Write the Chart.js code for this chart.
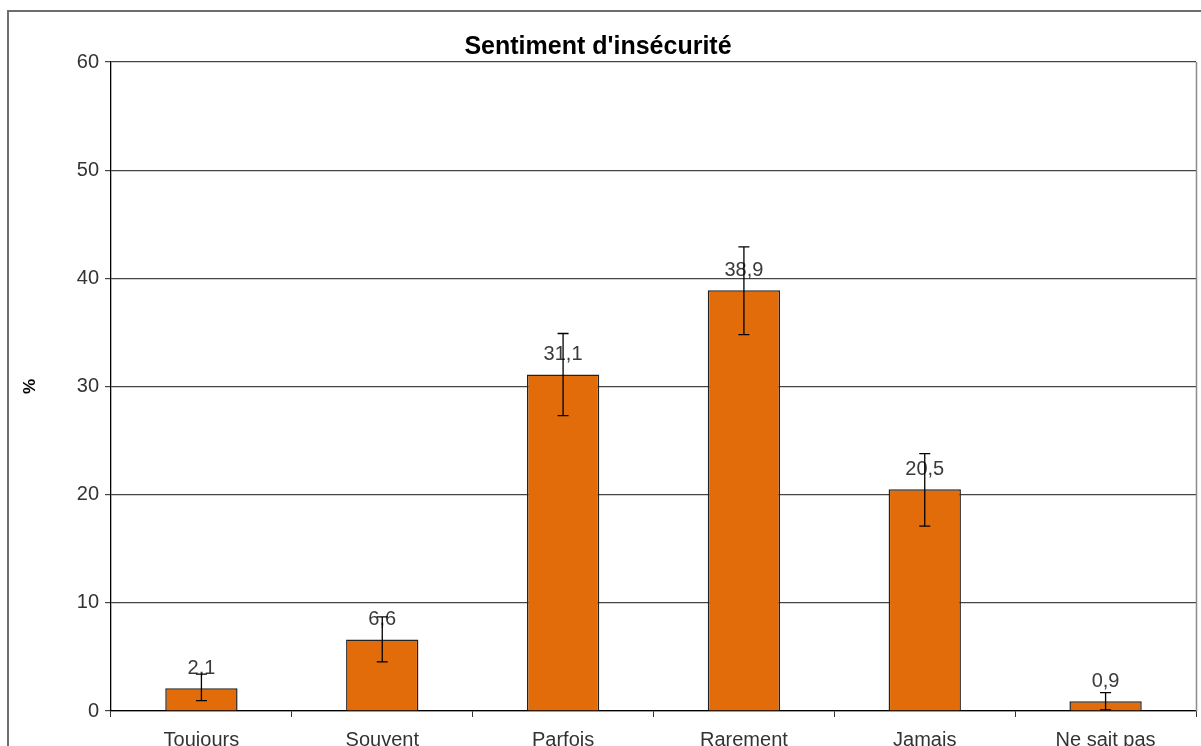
<!DOCTYPE html>
<html>
<head>
<meta charset="utf-8">
<script src="https://cdn.jsdelivr.net/npm/chart.js@4"></script>
<style>
  html, body { margin: 0; padding: 0; background: #fff; }
  #wrap { width: 1201px; height: 746px; }
</style>
</head>
<body>
<div id="wrap"><canvas id="canvas" width="1201" height="746"></canvas></div>
<script>
var categories = ['Toujours', 'Souvent', 'Parfois', 'Rarement', 'Jamais', 'Ne sait pas'];
var values = [2.1, 6.6, 31.1, 38.9, 20.5, 0.9];
var errLow = [0.95, 4.55, 27.3, 34.8, 17.1, 0.1];
var errHigh = [3.4, 8.7, 34.9, 42.9, 23.8, 1.7];
var yTicks = [0, 10, 20, 30, 40, 50, 60];

var FONT = "'Liberation Sans', Arial, sans-serif";

// outer frame and right border of the plot area
var framePlugin = {
    id: 'frame',
    beforeDraw: function (chart) {
        var ctx = chart.ctx;
        ctx.save();
        ctx.fillStyle = '#fff';
        ctx.fillRect(0, 0, chart.width, chart.height);
        ctx.strokeStyle = '#6e6e6e';
        ctx.lineWidth = 2;
        ctx.beginPath();
        ctx.moveTo(8, chart.height + 5);
        ctx.lineTo(8, 11);
        ctx.lineTo(chart.width + 5, 11);
        ctx.stroke();
        ctx.restore();
    },
    afterDraw: function (chart) {
        var a = chart.chartArea, ctx = chart.ctx;
        ctx.save();
        ctx.strokeStyle = '#8c8c8c';
        ctx.lineWidth = 1.5;
        ctx.beginPath();
        ctx.moveTo(a.right + 0.5, a.top);
        ctx.lineTo(a.right + 0.5, a.bottom);
        ctx.stroke();
        ctx.restore();
    }
};

// value labels and error bars
var errorPlugin = {
    id: 'errors',
    afterDatasetsDraw: function (chart) {
        var ctx = chart.ctx;
        var y = chart.scales.y;
        var bars = chart.getDatasetMeta(0).data;
        ctx.save();
        ctx.font = '20px ' + FONT;
        ctx.fillStyle = '#3a3a3a';
        ctx.textAlign = 'center';
        ctx.textBaseline = 'middle';
        bars.forEach(function (bar, i) {
            ctx.fillText(values[i].toFixed(1).replace('.', ','), bar.x, bar.y - 20);
        });
        ctx.strokeStyle = '#000';
        ctx.lineWidth = 1.3;
        bars.forEach(function (bar, i) {
            var top = y.getPixelForValue(errHigh[i]);
            var bot = y.getPixelForValue(errLow[i]);
            ctx.beginPath();
            ctx.moveTo(bar.x, top);
            ctx.lineTo(bar.x, bot);
            ctx.moveTo(bar.x - 5.5, top);
            ctx.lineTo(bar.x + 5.5, top);
            ctx.moveTo(bar.x - 5.5, bot);
            ctx.lineTo(bar.x + 5.5, bot);
            ctx.stroke();
        });
        ctx.restore();
    }
};

var config = {
    type: 'bar',
    data: {
        labels: categories,
        datasets: [{
            data: values,
            backgroundColor: '#e36c0a',
            borderColor: '#222',
            borderWidth: 1.5,
            categoryPercentage: 1,
            barPercentage: 0.4
        }]
    },
    options: {
        responsive: false,
        animation: false,
        layout: { padding: { left: 0, right: 5, top: 0, bottom: 0 } },
        plugins: {
            legend: { display: false },
            tooltip: { enabled: false },
            title: {
                display: true,
                text: "Sentiment d'insécurité",
                color: '#000',
                font: { family: FONT, size: 25, weight: 'bold', lineHeight: 1.2 },
                padding: { top: 32, bottom: 0 }
            }
        },
        scales: {
            x: {
                grid: { display: true, drawOnChartArea: false, drawTicks: true, tickLength: 6, color: '#333', offset: true },
                border: { display: true, color: '#000', width: 1.3 },
                ticks: { color: '#333', font: { family: FONT, size: 20 }, padding: 11, maxRotation: 0 },
                afterFit: function (scale) { scale.height = 35; }
            },
            y: {
                min: 0,
                max: 60,
                afterBuildTicks: function (scale) {
                    scale.ticks = yTicks.map(function (v) { return { value: v }; });
                },
                grid: { color: '#444', lineWidth: 1.2, tickLength: 6, drawTicks: true },
                border: { display: true, color: '#000', width: 1.3 },
                ticks: { color: '#333', font: { family: FONT, size: 20 }, padding: 6 },
                title: {
                    display: true,
                    text: '%',
                    color: '#000',
                    font: { family: FONT, size: 17, weight: 'bold' },
                    padding: { top: 20, bottom: 0 }
                },
                afterFit: function (scale) { scale.width = 111; }
            }
        }
    },
    plugins: [framePlugin, errorPlugin]
};

var graphic;
window.onload = function () {
    var ctx = document.getElementById('canvas').getContext('2d');
    graphic = new Chart(ctx, config);
};
</script>
</body>
</html>
